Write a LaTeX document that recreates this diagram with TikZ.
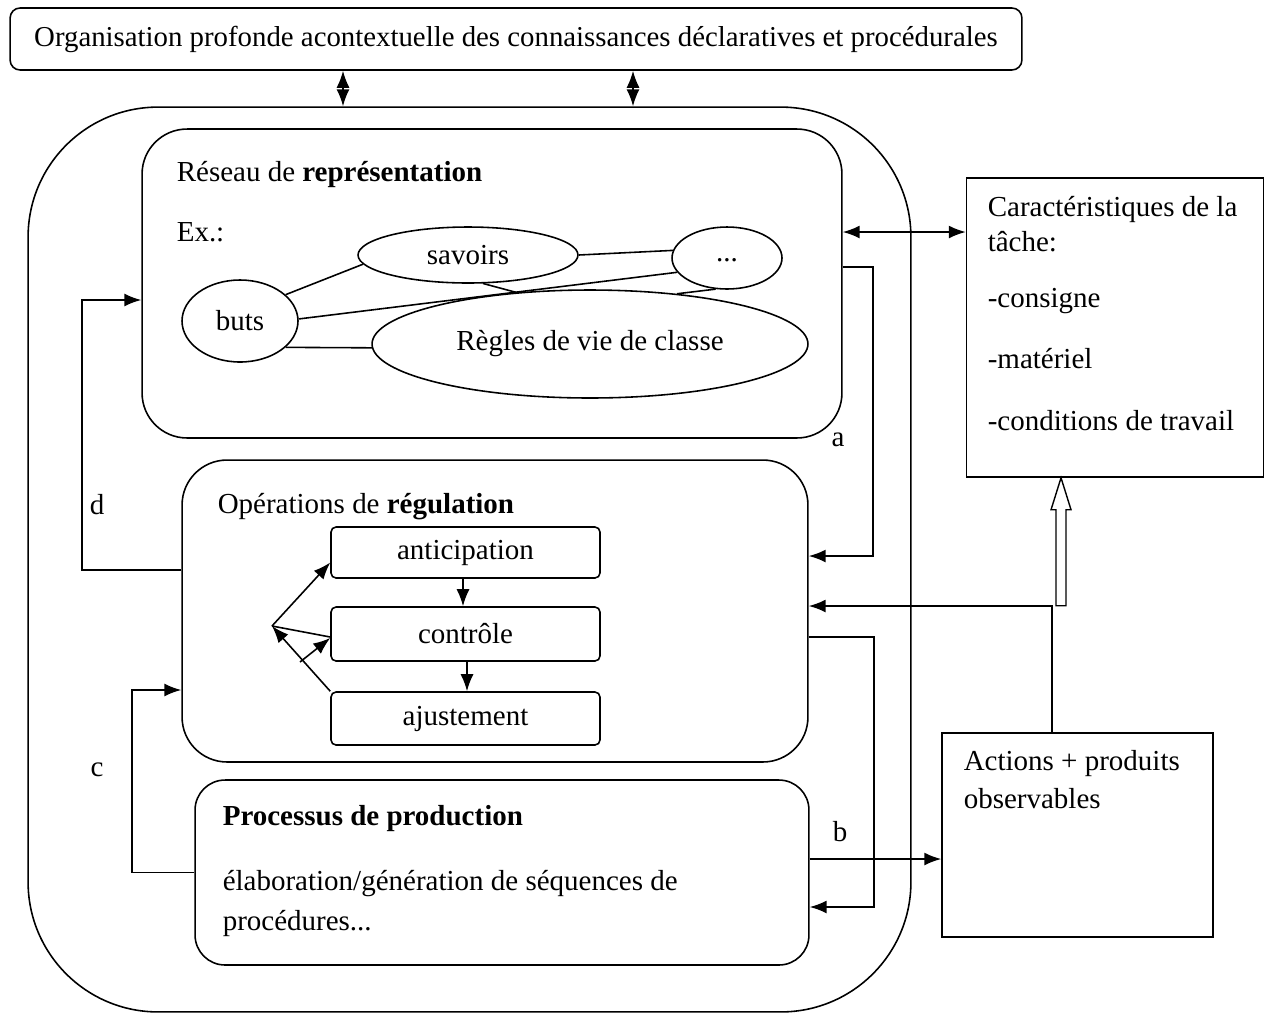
\documentclass[tikz,border=0pt]{standalone}
\usepackage{fontspec}
\setmainfont{Liberation Serif}
\usetikzlibrary{arrows.meta,shapes.geometric,calc}
\tikzset{
  every path/.style={line width=0.9pt},
  txt/.style={font=\fontsize{16.5}{19}\selectfont, inner sep=0pt},
  box/.style={draw, line width=0.9pt, inner sep=0pt},
  ell/.style={draw, ellipse, line width=0.9pt, inner sep=0pt, font=\fontsize{16.5}{19}\selectfont},
  arr/.style={-{Latex[length=0.34cm,width=0.26cm]}},
  dblarr/.style={{Latex[length=0.34cm,width=0.26cm]}-{Latex[length=0.34cm,width=0.26cm]}}
}
\begin{document}
\begin{tikzpicture}[x=0.02cm,y=-0.02cm]
\useasboundingbox (0,0) rectangle (1266,1015);
% boxes
\node[box, rounded corners=0.2cm, minimum width=20.24cm, minimum height=1.24cm] (top) at (516,39) {};
\node[txt, font=\fontsize{16.4}{19}\selectfont] at (top.center) {Organisation profonde acontextuelle des connaissances déclaratives et procédurales};
\node[box, rounded corners=2.6cm, minimum width=17.66cm, minimum height=18.1cm] (outer) at (469.5,559.5) {};
\node[box, rounded corners=0.9cm, minimum width=14cm, minimum height=6.18cm] (reseau) at (492,283.5) {};
\node[box, rounded corners=0.9cm, minimum width=12.52cm, minimum height=6.04cm] (oper) at (495,611) {};
\node[box, rounded corners=0.6cm, minimum width=12.28cm, minimum height=3.7cm] (proc) at (502,872.5) {};
\node[box, minimum width=5.94cm, minimum height=5.98cm] (carac) at (1115,327.5) {};
\node[box, minimum width=5.42cm, minimum height=4.08cm] (actions) at (1077.5,835) {};
\node[box, rounded corners=0.1cm, minimum width=5.38cm, minimum height=1.02cm, txt] (antic) at (465.5,552.5) {anticipation};
\node[box, rounded corners=0.1cm, minimum width=5.38cm, minimum height=1.08cm, txt] (contr) at (465.5,634) {contrôle};
\node[box, rounded corners=0.1cm, minimum width=5.38cm, minimum height=1.06cm, txt] (ajust) at (465.5,718.5) {ajustement};
% texts
\node[txt, anchor=base west] (t1) at (176,181) {Réseau de \textbf{représentation}};
\node[txt, anchor=base west] (t2) at (176,241) {Ex.:};
\node[txt, anchor=base west] (t3) at (217,513) {Opérations de \textbf{régulation}};
\node[txt, anchor=base west] (t4) at (222,825) {\textbf{Processus de production}};
\node[txt, anchor=base west] (t5) at (222,890) {élaboration/génération de séquences de};
\node[txt, anchor=base west] (t6) at (222,930) {procédures...};
\node[txt, anchor=base west] (c1) at (987,216) {Caractéristiques de la};
\node[txt, anchor=base west] (c2) at (987,251) {tâche:};
\node[txt, anchor=base west] (c3) at (987,307) {-consigne};
\node[txt, anchor=base west] (c4) at (987,368) {-matériel};
\node[txt, anchor=base west] (c5) at (987,430) {-conditions de travail};
\node[txt, anchor=base west] (a1) at (963,770) {Actions + produits};
\node[txt, anchor=base west] (a2) at (963,808) {observables};
\node[txt] (la) at (838,440) {a};
\node[txt] (lb) at (840,832) {b};
\node[txt] (lc) at (97,770) {c};
\node[txt] (ld) at (97,505) {d};
% ellipses
\node[ell, minimum width=2.32cm, minimum height=1.64cm] (buts) at (240,321) {buts};
\node[ell, minimum width=4.4cm, minimum height=1.12cm] (savoirs) at (468,255) {savoirs};
\node[ell, minimum width=2.2cm, minimum height=1.24cm] (dots) at (727,258) {\raisebox{-0.5ex}{...}};
\node[ell, minimum width=8.72cm, minimum height=2.16cm] (regles) at (590,344) {Règles de vie de classe};
\draw (buts.30) -- (savoirs.185);
\draw (savoirs.0) -- (dots.172);
\draw (buts.2) -- (dots.196);
\draw (savoirs.-62) -- (regles.145);
\draw (dots.-110) -- (regles.30);
\draw (buts.-30) -- (regles.181);
% top double arrows
\coordinate (u1) at (343,0);
\coordinate (u2) at (633,0);
\draw[dblarr] (top.south -| u1) -- (outer.north -| u1);
\draw[dblarr] (top.south -| u2) -- (outer.north -| u2);
% reseau <-> carac
\draw[dblarr] ([yshift=1.03cm]reseau.east) -- ([yshift=1.03cm]reseau.east -| carac.west);
% a loop
\draw[arr] ([yshift=0.33cm]reseau.east) -- ++(30,0) |- ([yshift=1.1cm]oper.east);
% actions -> oper
\draw[arr] ([xshift=-0.51cm]actions.north) |- ([yshift=0.1cm]oper.east);
% hollow arrow
\draw[line width=0.8pt] ([xshift=-1.08cm]carac.south) -- ++(-10,32) -- ++(5,0) -- ++(0,96) -- ++(10,0) -- ++(0,-96) -- ++(5,0) -- cycle;
% b loop
\draw[arr] ([yshift=-0.52cm]oper.east) -- ++(65,0) |- ([yshift=-0.69cm]proc.east);
\draw[arr] ([yshift=0.27cm]proc.east) -- ([yshift=0.27cm]proc.east -| actions.west);
% d loop
\draw[arr] ([yshift=0.82cm]oper.west) -- ++(-99,0) |- ([yshift=-0.33cm]reseau.west);
% c loop
\draw[arr] (proc.west) -- ++(-62,0) |- ([yshift=-1.58cm]oper.west);
% inner regulation arrows
\draw[arr] ([xshift=-0.05cm]antic.south) -- ([xshift=-0.05cm]antic.south |- contr.north);
\draw[arr] ([xshift=0.03cm]contr.south) -- ([xshift=0.03cm]contr.south |- ajust.north);
\coordinate (V) at (272,626);
\coordinate (S2) at (300,662);
\draw[arr] (V) -- ([yshift=-0.2cm]antic.west);
\draw (V) -- ([yshift=-0.06cm]contr.west);
\draw[arr] (ajust.north west) -- (V);
\draw[arr] (S2) -- ([yshift=-0.08cm]contr.west);
\end{tikzpicture}
\end{document}
